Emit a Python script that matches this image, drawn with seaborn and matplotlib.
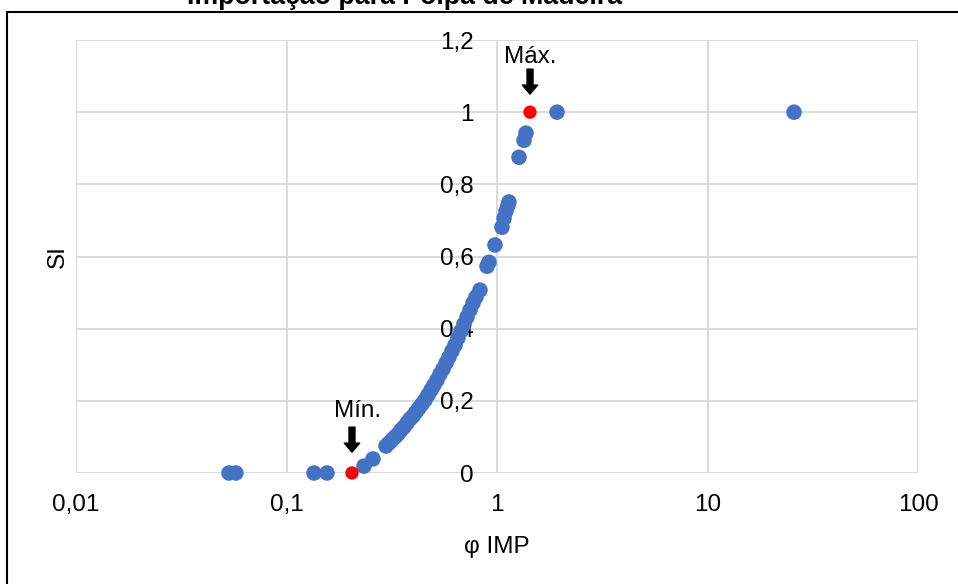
import matplotlib
matplotlib.use("Agg")
import matplotlib.pyplot as plt
from matplotlib.lines import Line2D
import seaborn as sns
import pandas as pd

# Sensitivity index (SI) versus the import share phi (IMP)
phi_imp = [
    0.0533, 0.0575, 0.1351, 0.1557, 0.2334, 0.2576,
    0.2970, 0.3068, 0.3170, 0.3276, 0.3386, 0.3499, 0.3616, 0.3736,
    0.3861, 0.3990, 0.4123, 0.4261, 0.4403, 0.4550, 0.4701, 0.4858,
    0.5020, 0.5187, 0.5360, 0.5539, 0.5724, 0.5915, 0.6112, 0.6316,
    0.6526, 0.6745, 0.6970, 0.7202, 0.7443, 0.7691, 0.7947, 0.8301,
    0.8964, 0.9162, 0.9780, 1.0560, 1.0800, 1.1040, 1.1280, 1.1400,
    1.2720, 1.3440, 1.3730, 1.9280, 25.76,
]
si = [
    0.0, 0.0, 0.0, 0.0, 0.019, 0.039,
    0.0748, 0.0831, 0.0914, 0.0997, 0.1080, 0.1191, 0.1274, 0.1385,
    0.1496, 0.1579, 0.1690, 0.1801, 0.1911, 0.2022, 0.2161, 0.2299,
    0.2438, 0.2576, 0.2742, 0.2881, 0.3047, 0.3213, 0.3380, 0.3546,
    0.3740, 0.3934, 0.4127, 0.4321, 0.4515, 0.4709, 0.4875, 0.5069,
    0.573, 0.584, 0.632, 0.681, 0.706, 0.726, 0.742, 0.751,
    0.875, 0.922, 0.942, 1.0, 1.0,
]

# Extreme cases highlighted in red
phi_min, si_min = 0.2047, 0.0
phi_max, si_max = 1.435, 1.0

x_ticks = [0.01, 0.1, 1, 10, 100]
x_tick_labels = ["0,01", "0,1", "1", "10", "100"]
y_ticks = [0, 0.2, 0.4, 0.6, 0.8, 1.0, 1.2]
y_tick_labels = ["0", "0,2", "0,4", "0,6", "0,8", "1", "1,2"]

sns.set_theme(style="white")
plt.rcParams["font.family"] = ["Liberation Sans", "DejaVu Sans"]

W, H = 958, 584
fig = plt.figure(figsize=(W / 100, H / 100), dpi=100)
ax = fig.add_axes([76 / W, 111 / H, 842 / W, 433 / H])

df = pd.DataFrame({"phi": phi_imp, "si": si})
sns.scatterplot(data=df, x="phi", y="si", ax=ax, s=125, color="#4472C4",
                edgecolor="none", linewidth=0, zorder=3, clip_on=False)
sns.scatterplot(x=[phi_min, phi_max], y=[si_min, si_max], ax=ax, s=92,
                color="#FF0000", edgecolor="none", linewidth=0, zorder=4,
                clip_on=False)

ax.set_xscale("log")
ax.set_xlim(0.01, 100)
ax.set_ylim(0, 1.2)
ax.set_xticks(x_ticks, x_tick_labels)
ax.set_yticks(y_ticks, y_tick_labels)
ax.minorticks_off()
ax.grid(True, color="#D9D9D9", linewidth=1.4, zorder=0)
ax.set_axisbelow(True)
for sp in ax.spines.values():
    sp.set_visible(False)
# value axis crosses the category axis at phi = 1
ax.spines["left"].set_position(("data", 1))
ax.tick_params(axis="both", length=0, labelsize=17.5, colors="black")
ax.tick_params(axis="x", pad=15)
ax.tick_params(axis="y", pad=17)

ax.set_xlabel("φ IMP", fontsize=17.5, color="black")
ax.xaxis.set_label_coords(0.5, (473 - 547) / 433)
ax.xaxis.label.set_va("center")
ax.set_ylabel("SI", fontsize=17.5, color="black")
ax.yaxis.set_label_coords((58 - 76) / 842, (473 - 257) / 433)
ax.yaxis.label.set_va("center")

arrow = dict(arrowstyle="simple,head_length=0.65,head_width=1.1,tail_width=0.43",
             color="black", shrinkA=0, shrinkB=13, mutation_scale=10)
ax.annotate("Máx.", xy=(phi_max, si_max), xytext=(0, 35.3),
            textcoords="offset points", ha="center", va="baseline",
            fontsize=17.5, color="black")
ax.annotate("", xy=(phi_max, si_max), xytext=(0, 31),
            textcoords="offset points", arrowprops=arrow)
ax.annotate("Mín.", xy=(phi_min, si_min), xytext=(4.3, 40.3),
            textcoords="offset points", ha="center", va="baseline",
            fontsize=17.5, color="black")
arrow_min = dict(arrow, shrinkB=15)
ax.annotate("", xy=(phi_min, si_min), xytext=(0, 33),
            textcoords="offset points", arrowprops=arrow_min)

fig.text(404.5 / W, (H - 4) / H, "Importação para Polpa de Madeira",
         ha="center", va="baseline", fontsize=19.3, fontweight="bold",
         color="black")

# chart frame
fig.add_artist(Line2D([7 / W, 7 / W], [0, (H - 12) / H], color="black",
                      linewidth=1.5, transform=fig.transFigure))
fig.add_artist(Line2D([7 / W, 1], [(H - 12) / H, (H - 12) / H], color="black",
                      linewidth=1.5, transform=fig.transFigure))

fig.savefig("out.png", dpi=100)
